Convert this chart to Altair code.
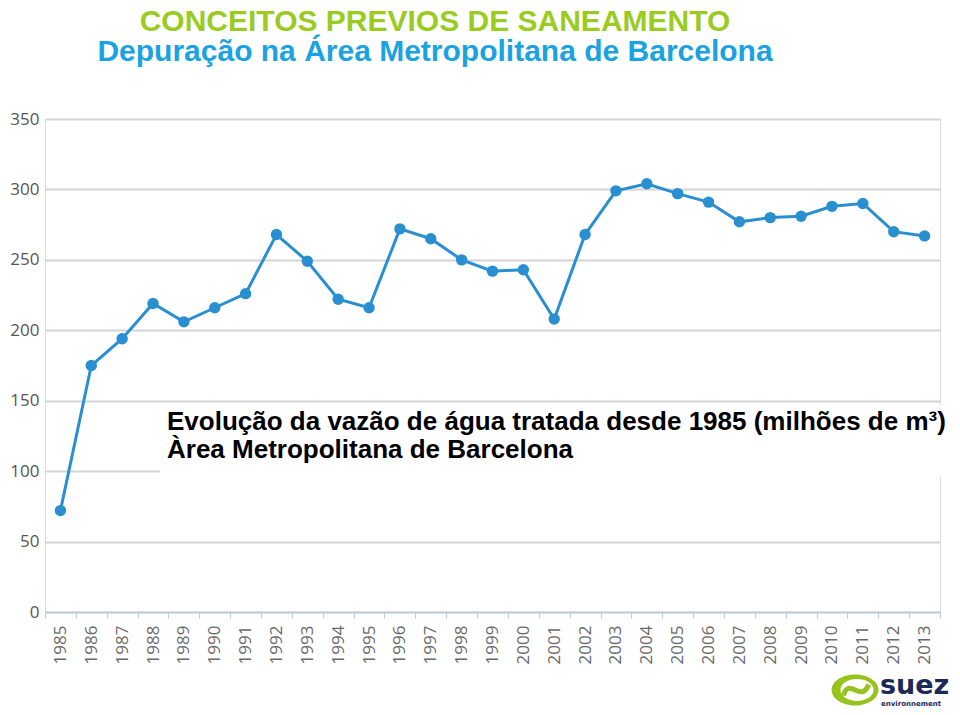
import altair as alt
import pandas as pd

years = [str(y) for y in range(1985, 2014)]
values = [72, 175, 194, 219, 206, 216, 226, 268, 249, 222, 216, 272, 265, 250, 242,
          243, 208, 268, 299, 304, 297, 291, 277, 280, 281, 288, 290, 270, 267]
y_ticks = [0, 50, 100, 150, 200, 250, 300, 350]

title_1 = "CONCEITOS PREVIOS DE SANEAMENTO"
title_2 = "Depuração na Área Metropolitana de Barcelona"
note_1 = "Evolução da vazão de água tratada desde 1985 (milhões de m³)"
note_2 = "Àrea Metropolitana de Barcelona"

df = pd.DataFrame({"year": years, "value": values})

W, H = 895, 493
LINE = "#2a8fd1"

x_enc = alt.X(
    "year:O",
    bandPosition=0.5,
    scale=alt.Scale(type="band", paddingInner=0, paddingOuter=0),
    axis=alt.Axis(
        title=None, labelAngle=-90, tickBand="extent", grid=False,
        domainColor="#b9c9d9", domainWidth=1.5, tickColor="#b9c9d9", tickSize=6,
        labelColor="#6a6a6a", labelFont="Open Sans", labelFontSize=17,
        labelPadding=7,
    ),
)
y_enc = alt.Y(
    "value:Q",
    scale=alt.Scale(domain=[0, 350], nice=False),
    axis=alt.Axis(
        title=None, values=y_ticks, domain=False, ticks=False,
        gridColor="#d4d4d4", gridWidth=2,
        labelColor="#555555", labelFont="Open Sans", labelFontSize=17,
        labelPadding=6,
    ),
)

base = alt.Chart(df)
line = base.mark_line(color=LINE, strokeWidth=3).encode(x=x_enc, y=y_enc)
pts = base.mark_circle(color=LINE, size=130, opacity=1).encode(x=x_enc, y=y_enc)

one = alt.Chart(pd.DataFrame({"k": [0]}))

# white background behind annotation
box = one.mark_rect(color="white").encode(
    x=alt.value(115), x2=alt.value(902), y=alt.value(286), y2=alt.value(357)
)

def txt(text, x, y, size, color, align="left", font="Liberation Sans", weight="bold"):
    return one.mark_text(
        text=text, align=align, baseline="alphabetic", font=font,
        fontSize=size, fontWeight=weight, color=color,
    ).encode(x=alt.value(x), y=alt.value(y))

t1 = txt(title_1, 390, -88, 30, "#99cc1f", align="center")
t2 = txt(title_2, 390, -58, 30, "#1aa3e0", align="center")
n1 = txt(note_1, 122, 311, 26, "#000000")
n2 = txt(note_2, 122, 339, 26, "#000000")

# logo
ell = "M -1 0 A 1 0.66 0 1 1 1 0 A 1 0.66 0 1 1 -1 0 Z"
logo_outer = one.mark_point(shape=ell, filled=True, color="#97c31e", size=2200, opacity=1).encode(
    x=alt.value(810), y=alt.value(571))
logo_inner = one.mark_point(shape=ell, filled=True, color="white", size=1100, opacity=1).encode(
    x=alt.value(812), y=alt.value(571))
s_path = "M -0.8 0.35 C -0.4 -0.9 0.3 0.9 0.8 -0.35"
logo_s = one.mark_point(shape=s_path, filled=False, color="#97c31e", size=1000, strokeWidth=5,
                        opacity=1).encode(x=alt.value(811), y=alt.value(571))
suez = txt("suez", 835, 575, 27, "#1c2a5a", font="DejaVu Sans")
env = txt("environnement", 836, 587, 7, "#1c2a5a", font="DejaVu Sans")

chart = alt.layer(
    line, pts, box, n1, n2, t1, t2, logo_outer, logo_inner, logo_s, suez, env
).properties(
    width=W, height=H,
    autosize=alt.AutoSizeParams(type="none"),
    padding={"left": 37, "top": 111, "right": 12, "bottom": 95},
).configure_view(stroke=None).configure(background="white")

chart.save("out.html", embed_options={"renderer": "svg", "actions": False})
